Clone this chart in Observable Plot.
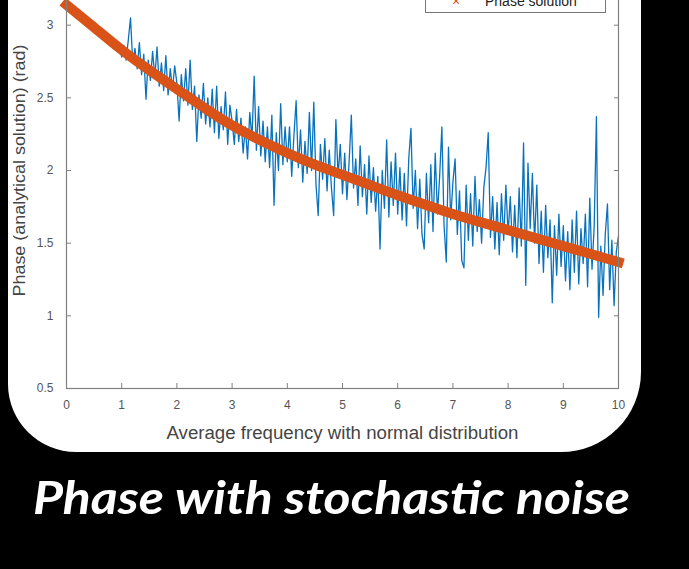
<!DOCTYPE html>
<html><head><meta charset="utf-8">
<script src="https://cdn.jsdelivr.net/npm/d3@7"></script>
<script src="https://cdn.jsdelivr.net/npm/@observablehq/plot@0.6"></script>
<style>
html,body{margin:0;padding:0;background:#000;width:689px;height:569px;overflow:hidden;position:relative;}
#panel{position:absolute;left:8px;top:-100px;width:633px;height:552px;background:#fff;border-radius:40px 40px 80px 68px;}
#chart{position:absolute;left:0;top:-48px;}
#chart svg{background:transparent;}
#legend{position:absolute;left:425px;top:-30px;width:179px;height:41px;border:1px solid #777;background:#fff;font-family:"Liberation Sans",Arial,sans-serif;font-size:14px;color:#222;}
#legend .row{position:absolute;left:0;top:22px;width:100%;height:18px;}
#legend .sym{position:absolute;left:26px;top:0;color:#D95319;font-size:14px;}
#legend .lab{position:absolute;left:59px;top:0;}
#title{position:absolute;left:33px;top:474px;color:#fff;font-family:Lato,"Open Sans",sans-serif;font-weight:700;font-style:italic;font-size:46px;line-height:1;white-space:nowrap;transform-origin:0 0;}
g[aria-label="y-axis label"] text, g[aria-label="x-axis label"] text{fill:#454545;}
g[aria-label="x-axis label"] text{font-size:18px;}
g[aria-label="y-axis label"] text{font-size:16.5px;}
g[aria-label="x-axis tick label"] text, g[aria-label="y-axis tick label"] text{font-size:12px;fill:#555;}
</style>
</head><body>
<div id="panel"></div>
<div id="chart"></div>
<div id="legend"><div class="row"><span class="sym">×</span><span class="lab">Phase solution</span></div></div>
<div id="title">Phase with stochastic noise</div>
<script>
const xTicks = [0,1,2,3,4,5,6,7,8,9,10];
const yTicks = [0.5,1,1.5,2,2.5,3];
const xLabel = "Average frequency with normal distribution";
const yLabel = "Phase (analytical solution) (rad)";
const legendLabel = "Phase solution";

// Phase solution (orange), sampled every 0.5
const solutionX = [0,0.5,1,1.5,2,2.5,3,3.5,4,4.5,5,5.5,6,6.5,7,7.5,8,8.5,9,9.5,10];
const solutionY = [3.14,2.985,2.83,2.69,2.56,2.43,2.31,2.21,2.12,2.04,1.97,1.90,1.83,1.765,1.70,1.645,1.59,1.535,1.48,1.425,1.37];

// Phase with stochastic noise (blue), samples from x=0 to x=10
const noiseStart = 0, noiseEnd = 10;
const noiseY = [
3.13,3.12,3.12,3.10,3.09,3.07,3.07,3.05,3.04,3.03,3.01,2.99,3.00,2.96,2.97,2.93,2.96,2.90,2.93,2.88,2.92,2.85,2.89,2.82,2.86,
2.78,2.86,2.76,2.90,3.05,2.74,2.84,2.70,2.88,2.66,2.80,2.49,2.76,2.62,2.82,2.64,2.85,2.58,2.74,2.55,2.79,2.52,2.70,2.56,2.72,
2.60,2.34,2.66,2.48,2.70,2.45,2.76,2.42,2.58,2.20,2.52,2.36,2.60,2.32,2.50,2.30,2.56,2.26,2.58,2.22,2.44,2.28,2.54,2.18,2.45,
2.34,2.18,2.42,2.20,2.36,2.12,2.30,2.08,2.40,2.22,2.65,2.14,2.44,2.10,2.34,2.06,2.30,2.02,2.38,1.76,2.26,2.00,2.46,2.04,2.30,
2.06,2.30,1.96,2.24,2.48,2.02,2.28,1.92,2.20,1.98,2.40,2.00,2.47,1.90,1.69,2.18,1.94,2.22,1.86,2.14,1.88,1.69,2.35,1.96,2.18,
1.84,2.12,1.80,2.06,2.38,1.88,2.08,1.76,2.17,1.82,2.04,1.70,2.10,1.78,2.02,1.72,1.96,1.46,2.00,1.74,2.21,1.68,2.06,1.76,2.12,
1.70,2.02,1.66,1.98,1.62,2.08,2.29,1.74,2.00,1.60,1.94,1.56,1.46,1.98,1.64,2.04,1.58,2.12,1.70,1.96,2.30,1.62,1.37,2.16,1.66,
1.92,2.08,1.56,1.86,1.38,1.33,1.90,1.52,1.84,1.48,1.96,1.58,1.80,1.50,1.88,2.02,2.26,1.54,1.82,1.46,1.78,1.42,1.84,1.52,1.90,
1.56,1.82,1.44,1.76,1.40,1.88,1.48,2.19,1.21,2.05,1.60,1.98,1.50,1.90,1.36,1.72,1.30,1.76,1.40,1.66,1.09,1.62,1.28,1.70,1.34,
1.62,1.24,1.58,1.18,1.66,1.30,1.72,1.22,1.60,1.36,1.70,1.20,1.81,1.32,1.62,2.37,0.99,1.48,1.14,1.56,1.77,1.18,1.52,1.07,1.44,
1.55
];

const noise = noiseY.map((y, i) => ({x: noiseStart + i * (noiseEnd - noiseStart) / (noiseY.length - 1), y}));
const solution = solutionX.map((x, i) => ({x, y: solutionY[i]}));

const axisColor = "#808080";
const plot = Plot.plot({
  width: 689, height: 496,
  marginLeft: 66, marginRight: 71, marginTop: 0, marginBottom: 60,
  x: {domain: [0, 10]},
  y: {domain: [0.5, 3.5]},
  style: {background: "transparent", fontFamily: "'Liberation Sans', Arial, sans-serif", fontSize: "12px", color: "#555", overflow: "visible"},
  marks: [
    Plot.line(noise, {x: "x", y: "y", stroke: "#0A72BD", strokeWidth: 1.3}),
    Plot.line(solution, {x: "x", y: "y", stroke: "#D95319", strokeWidth: 10, curve: "natural", strokeLinecap: "square"}),
    Plot.frame({stroke: axisColor, strokeWidth: 1.2}),
    Plot.axisX({ticks: xTicks, tickSize: -5, tickPadding: 17, stroke: axisColor, tickFormat: d => String(d), label: xLabel, labelAnchor: "center", labelArrow: "none", labelOffset: 50}),
    Plot.axisY({ticks: yTicks, tickSize: -5, tickPadding: 18, stroke: axisColor, tickFormat: d => String(d), label: yLabel, labelAnchor: "center", labelArrow: "none", labelOffset: 53}),
    Plot.axisY({anchor: "right", ticks: yTicks, tickSize: -5, stroke: axisColor, tickFormat: () => "", label: null})
  ]
});
document.getElementById("chart").appendChild(plot);

// fit axis-label widths to the reference
const xl = plot.querySelector('g[aria-label="x-axis label"] text');
if (xl) { xl.setAttribute("textLength", 352); xl.setAttribute("lengthAdjust", "spacingAndGlyphs"); }
const yl = plot.querySelector('g[aria-label="y-axis label"] text');
if (yl) { yl.setAttribute("textLength", 252); yl.setAttribute("lengthAdjust", "spacingAndGlyphs"); }

const t = document.getElementById("title");
const w = t.getBoundingClientRect().width;
t.style.transform = `scaleX(${597 / w})`;
</script>
</body></html>
